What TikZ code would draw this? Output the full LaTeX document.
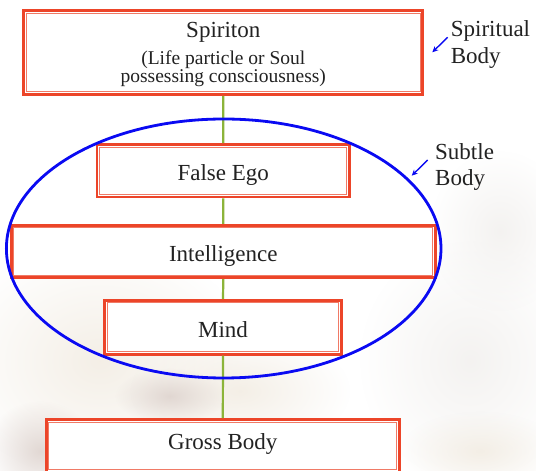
\documentclass[tikz,border=0pt]{standalone}
\usepackage{fontspec}
\setmainfont{Liberation Serif}
\usetikzlibrary{fadings,arrows.meta}
\definecolor{boxred}{HTML}{EC4529}
\definecolor{innerred}{HTML}{F07A66}
\definecolor{ellblue}{HTML}{0A0AF2}
\definecolor{linkgreen}{HTML}{8CB43A}
\definecolor{txt}{HTML}{222222}
\definecolor{cloudA}{HTML}{DDD2CD}
\definecolor{cloudB}{HTML}{F2ECE2}
\definecolor{cloudC}{HTML}{F2F0EE}
\tikzfading[name=cloudfade, inner color=transparent!15, outer color=transparent!100]
\begin{document}
\begin{tikzpicture}[x=1pt,y=1pt,
  box/.style={draw=boxred, line width=2.7pt, fill=white, inner sep=0pt, text=txt,
    font=\fontsize{23}{26}\selectfont, text height=20pt, text depth=0pt},
  innerline/.style={draw=innerred, line width=1pt},
  maintext/.style={text=txt, font=\fontsize{23}{26}\selectfont, inner sep=0pt, anchor=base},
  subtext/.style={text=txt, font=\fontsize{19.5}{18}\selectfont, inner sep=0pt, anchor=base},
  sidelabel/.style={text=txt, font=\fontsize{23}{26}\selectfont, inner sep=0pt, anchor=base west},
  link/.style={draw=linkgreen, line width=2.2pt},
  pointer/.style={draw=ellblue, line width=1.4pt, -{Stealth[length=6pt,width=5.5pt]}},
  cloud/.style={path fading=cloudfade}
]
\useasboundingbox (0,0) rectangle (536,471);
\fill[white] (0,0) rectangle (536,471);
% background clouds
\fill[cloudB, cloud] (100,110) ellipse (150 and 120);
\fill[cloudB, cloud] (240,80) ellipse (110 and 60);
\fill[cloudA, cloud] (40,20) ellipse (55 and 50);
\fill[cloudA, cloud] (170,75) ellipse (55 and 28);
\fill[cloudC, cloud] (470,110) ellipse (110 and 120);
\fill[cloudC, cloud] (500,240) ellipse (70 and 80);
\fill[cloudB, cloud] (480,20) ellipse (80 and 40);

% boxes
\node[box, minimum width=399, minimum height=84] (spir) at (223.3,418.5) {};
\node[box, minimum width=252.5, minimum height=52.5] (ego) at (223.2,300.2) {False Ego};
\node[box, minimum width=424, minimum height=52.5] (intel) at (223.3,219.5) {Intelligence};
\node[box, minimum width=236.5, minimum height=54] (mind) at (223,143.7) {Mind};
\node[box, minimum width=353, minimum height=53, text height=8pt] (gross) at (222.8,25) {Gross Body};

\draw[innerline] ([shift={(4,-4)}]spir.north west) rectangle ([shift={(-4,4)}]spir.south east);
\draw[innerline] ([shift={(4,-4)}]ego.north west) rectangle ([shift={(-4,4)}]ego.south east);
\draw[innerline] ([shift={(4,-4)}]intel.north west) rectangle ([shift={(-4,4)}]intel.south east);
\draw[innerline] ([shift={(4,-4)}]mind.north west) rectangle ([shift={(-4,4)}]mind.south east);
\draw[innerline] ([shift={(4,-4)}]gross.north west) rectangle ([shift={(-4,4)}]gross.south east);

\node[maintext] (spirt) at (223.3,433.3) {Spiriton};
\node[subtext] (spirs1) at (223.3,406.7) {(Life particle or Soul};
\node[subtext] (spirs2) at (223.3,388.7) {possessing consciousness)};

% connectors
\draw[link] (spir.south) -- (ego.north);
\draw[link] (ego.south) -- (intel.north);
\draw[link] (intel.south) -- (mind.north);
\draw[link] (mind.south) -- (gross.north);

% subtle body ellipse
\draw[draw=ellblue, line width=2.8pt] (223.7,222.5) ellipse (217.3 and 129.5);

% side labels
\node[sidelabel] (spl) at (450.7,434.3) {Spiritual};
\node[sidelabel] (spl2) at (450.7,407.7) {Body};
\node[sidelabel] (sul) at (435,311.7) {Subtle};
\node[sidelabel] (sul2) at (435,285.3) {Body};
\coordinate (a1s) at (447.7,433.7);
\coordinate (a1e) at (432.3,418.7);
\coordinate (a2s) at (427.7,311);
\coordinate (a2e) at (411.7,295.3);
\draw[pointer] (a1s) -- (a1e);
\draw[pointer] (a2s) -- (a2e);
\end{tikzpicture}
\end{document}
